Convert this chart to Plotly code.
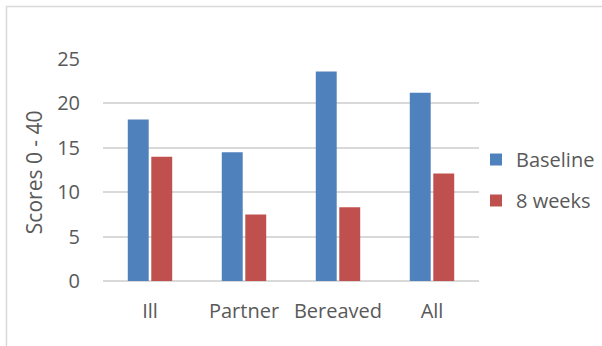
import plotly.graph_objects as go

categories = ["Ill", "Partner", "Bereaved", "All"]
baseline = [18.2, 14.5, 23.6, 21.2]
weeks8 = [14.0, 7.5, 8.3, 12.1]
y_ticks = [0, 5, 10, 15, 20, 25]

W, H = 602, 346
L, R = 103, 479
T, B = 59, 280.7

FONT = "Open Sans"
GRAY = "#595959"

fig = go.Figure()
fig.add_trace(go.Bar(x=categories, y=baseline, name="Baseline", legendgroup="a",
                     marker=dict(color="#4F81BD", line=dict(width=0))))
fig.add_trace(go.Bar(x=categories, y=weeks8, name="8 weeks", legendgroup="b",
                     marker=dict(color="#C0504D", line=dict(width=0))))

pw = R - L
ph = B - T
def px(x):
    return (x - L) / pw
def py(y):
    return (B - y) / ph

fig.update_layout(
    width=W, height=H,
    margin=dict(l=L, r=W - R, t=T, b=H - B, pad=0, autoexpand=False),
    paper_bgcolor="white", plot_bgcolor="white",
    barmode="group", bargap=0.5, bargroupgap=0.11,
    font=dict(family=FONT, size=20, color=GRAY),
    showlegend=True,
    legend=dict(xref="container", yref="container", x=476 / W, y=1 - 140 / H,
                xanchor="left", yanchor="top",
                font=dict(family=FONT, size=20, color=GRAY),
                tracegroupgap=12, itemsizing="constant", bgcolor="rgba(0,0,0,0)"),
    xaxis=dict(showgrid=False, showline=False, ticks="", zeroline=False,
               tickfont=dict(family=FONT, size=20, color=GRAY), ticklabelstandoff=16),
    yaxis=dict(range=[0, 25], tickvals=y_ticks, showgrid=True, gridcolor="#D9D9D9",
               gridwidth=1.5, zeroline=True, zerolinecolor="#D9D9D9", zerolinewidth=1.5,
               showline=False, ticks="",
               tickfont=dict(family=FONT, size=20, color=GRAY), ticklabelstandoff=22),
    annotations=[dict(text="Scores 0 - 40", textangle=-90, xref="paper", yref="paper",
                      x=px(34), y=py(172), xanchor="center", yanchor="middle",
                      showarrow=False, font=dict(family=FONT, size=21, color=GRAY))],
    shapes=[dict(type="rect", xref="paper", yref="paper",
                 x0=px(6.5), x1=px(W + 10), y0=py(H + 10), y1=py(6.5),
                 line=dict(color="#D9D9D9", width=1.5), fillcolor="rgba(0,0,0,0)",
                 layer="below")],
)

fig.write_html("out.html")
